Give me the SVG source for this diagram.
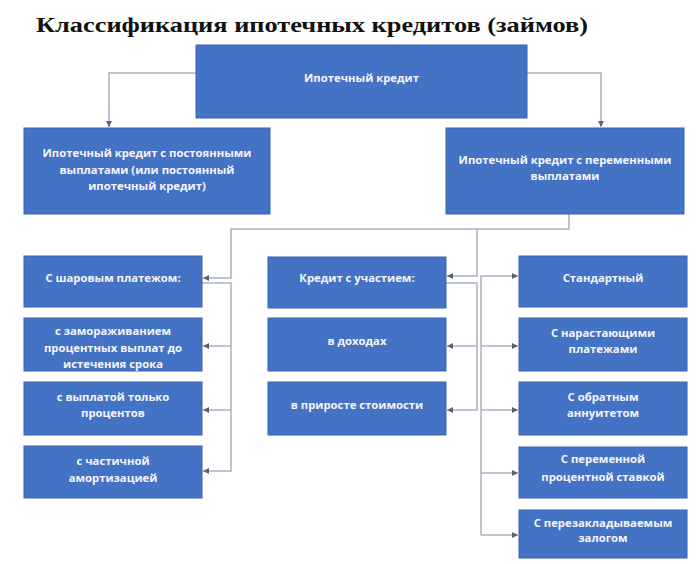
<svg xmlns="http://www.w3.org/2000/svg" width="696" height="564" viewBox="0 0 696 564">
<defs>
<marker id="arr" viewBox="0 0 10 10" refX="10" refY="5" markerWidth="6" markerHeight="6" markerUnits="userSpaceOnUse" orient="auto">
<path d="M0,0 L10,5 L0,10 z" fill="#56627A"/>
</marker>
</defs>
<style>
.box{fill:#4472C4;stroke:#3B63AD;stroke-width:1}
.t{font-family:"Open Sans","Liberation Sans","DejaVu Sans",sans-serif;font-weight:bold;font-size:11.3px;fill:#F4F6FA;text-anchor:middle}
.title{font-family:"Liberation Serif","DejaVu Serif",serif;font-weight:bold;font-size:22px;fill:#111}
.c{fill:none;stroke:#A9B3C2;stroke-width:1.5}
.a{fill:none;stroke:#A9B3C2;stroke-width:1.5;marker-end:url(#arr)}
</style>
<rect width="696" height="564" fill="#FFFFFF"/>
<text class="title" x="36" y="32" textLength="552" lengthAdjust="spacingAndGlyphs">Классификация ипотечных кредитов (займов)</text>

<g id="connectors">
<path class="a" d="M196,73 H109 V127"/>
<path class="a" d="M527,73 H601 V127"/>
<path class="a" d="M569,214 V229 H231 V278 H203"/>
<path class="a" d="M477,229 V276 H447"/>
<path class="a" d="M202,283 H231 V471 H203"/>
<path class="a" d="M231,346 H203"/>
<path class="a" d="M231,410 H203"/>
<path class="a" d="M446,283 H477 V410 H447"/>
<path class="a" d="M477,346 H447"/>
<path class="a" d="M481,535 V276 H518"/>
<path class="a" d="M481,346 H518"/>
<path class="a" d="M481,410 H518"/>
<path class="a" d="M481,473 H518"/>
<path class="a" d="M481,535 H518"/>
</g>

<g id="n-root"><rect class="box" x="196" y="45" width="331" height="73"/>
<text class="t" x="361.5" y="82">Ипотечный кредит</text></g>

<g id="n-fixed"><rect class="box" x="24" y="128" width="246" height="86"/>
<text class="t" x="147" y="157">Ипотечный кредит с постоянными</text>
<text class="t" x="147" y="174">выплатами (или постоянный</text>
<text class="t" x="147" y="190">ипотечный кредит)</text></g>

<g id="n-var"><rect class="box" x="446" y="128" width="238" height="86"/>
<text class="t" x="565" y="164">Ипотечный кредит с переменными</text>
<text class="t" x="565" y="180">выплатами</text></g>

<g id="n-balloon"><rect class="box" x="24" y="256" width="178" height="51"/>
<text class="t" x="113" y="282">С шаровым платежом:</text></g>

<g id="n-freeze"><rect class="box" x="24" y="318" width="178" height="53"/>
<text class="t" x="113" y="335">с замораживанием</text>
<text class="t" x="113" y="352">процентных выплат до</text>
<text class="t" x="113" y="368">истечения срока</text></g>

<g id="n-interest"><rect class="box" x="24" y="382" width="178" height="53"/>
<text class="t" x="113" y="401">с выплатой только</text>
<text class="t" x="113" y="417">процентов</text></g>

<g id="n-partial"><rect class="box" x="24" y="446" width="178" height="52"/>
<text class="t" x="113" y="465">с частичной</text>
<text class="t" x="113" y="482">амортизацией</text></g>

<g id="n-part"><rect class="box" x="268" y="257" width="178" height="51"/>
<text class="t" x="357" y="282">Кредит с участием:</text></g>

<g id="n-income"><rect class="box" x="268" y="318" width="178" height="53"/>
<text class="t" x="357" y="345">в доходах</text></g>

<g id="n-growth"><rect class="box" x="268" y="382" width="178" height="53"/>
<text class="t" x="357" y="409">в приросте стоимости</text></g>

<g id="n-standard"><rect class="box" x="519" y="256" width="168" height="51"/>
<text class="t" x="603" y="282">Стандартный</text></g>

<g id="n-growing"><rect class="box" x="519" y="318" width="168" height="53"/>
<text class="t" x="603" y="337">С нарастающими</text>
<text class="t" x="603" y="353">платежами</text></g>

<g id="n-reverse"><rect class="box" x="519" y="382" width="168" height="53"/>
<text class="t" x="603" y="401">С обратным</text>
<text class="t" x="603" y="417">аннуитетом</text></g>

<g id="n-variable"><rect class="box" x="519" y="447" width="168" height="51"/>
<text class="t" x="603" y="463">С переменной</text>
<text class="t" x="603" y="481">процентной ставкой</text></g>

<g id="n-remortgage"><rect class="box" x="519" y="510" width="168" height="48"/>
<text class="t" x="603" y="527">С перезакладываемым</text>
<text class="t" x="603" y="542">залогом</text></g>
</svg>
